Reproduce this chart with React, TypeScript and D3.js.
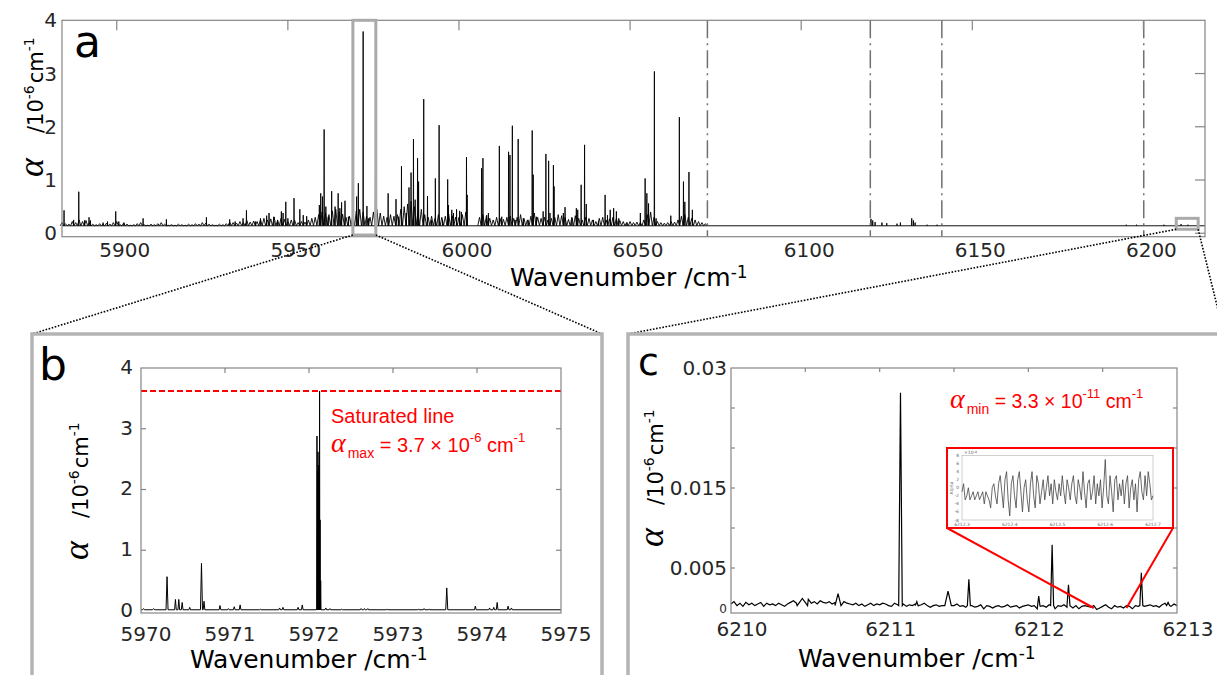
import React from 'react';
import * as d3 from 'd3';

// ---------- Panel a: survey spectrum ----------
const aXTicks = [5900, 5950, 6000, 6050, 6100, 6150, 6200];
const aYTicks = [0, 1, 2, 3, 4];
const aBaseline = 0.14;
const aFuzzStart = 5884;
const aFuzz = [
  0.2, 0.18, 0.17, 0.22, 0.2, 0.25, 0.22, 0.24, 0.2, 0.17, 0.16, 0.18, 0.17, 0.19, 0.17, 0.2, 0.22,
  0.16, 0.19, 0.17, 0.15, 0.16, 0.18, 0.2, 0.16, 0.15, 0.17,
  0.16, 0.18, 0.2, 0.17, 0.15, 0.16, 0.15, 0.17, 0.16, 0.15,
  0.17, 0.16, 0.18, 0.17, 0.2, 0.19, 0.17, 0.16, 0.15, 0.17,
  0.16, 0.18, 0.21, 0.2, 0.19,
  0.22, 0.2, 0.24, 0.21, 0.23, 0.22, 0.26, 0.28, 0.25, 0.27, 0.3, 0.24, 0.28, 0.26, 0.22, 0.25, 0.24, 0.2, 0.22, 0.21, 0.25, 0.28, 0.3, 0.35,
  0.4, 0.38, 0.35, 0.42, 0.45, 0.4, 0.36, 0.3, 0.32, 0.35, 0.42, 0.45, 0.4, 0.32, 0.3, 0.4, 0.45, 0.38, 0.32, 0.3, 0.35, 0.32,
  0.35, 0.45, 0.5, 0.55, 0.6, 0.5, 0.4, 0.45, 0.35, 0.3, 0.32, 0.28, 0.35, 0.3, 0.32, 0.36, 0.33, 0.3, 0.3, 0.35, 0.4,
  0.14, 0.14, 0.14,
  0.3, 0.35, 0.32, 0.28, 0.25, 0.3, 0.28, 0.26, 0.3, 0.32,
  0.28, 0.3, 0.35, 0.28, 0.25, 0.32, 0.38, 0.3, 0.28, 0.3,
  0.25, 0.28, 0.3, 0.35, 0.33, 0.3, 0.26, 0.3, 0.33, 0.28,
  0.25, 0.3, 0.28, 0.25, 0.22, 0.28, 0.3, 0.25, 0.27, 0.3,
  0.28, 0.24, 0.22, 0.2, 0.22, 0.2, 0.21, 0.2, 0.25, 0.35,
  0.4, 0.3, 0.22, 0.2, 0.19, 0.2, 0.22, 0.21, 0.25, 0.32,
  0.35, 0.3, 0.28, 0.25, 0.22, 0.2, 0.18,
];
const aPeaks: [number, number][] = [
  [5884.6, 0.43], [5887.4, 0.25], [5888.9, 0.78], [5890.6, 0.24], [5891.9, 0.3], [5892.3, 0.24], [5896.0, 0.2],
  [5897.3, 0.22], [5899.7, 0.41], [5900.6, 0.22], [5902.1, 0.2], [5907.7, 0.28], [5914.5, 0.26], [5926.2, 0.3],
  [5933.0, 0.26], [5934.6, 0.22], [5936.9, 0.28], [5937.9, 0.43], [5940.5, 0.22], [5942.0, 0.28], [5943.8, 0.33],
  [5944.5, 0.38], [5945.9, 0.31], [5947.0, 0.25], [5948.1, 0.41], [5948.6, 0.38], [5949.4, 0.59], [5950.0, 0.28],
  [5951.8, 0.66], [5953.5, 0.45], [5954.5, 0.34], [5955.5, 0.32], [5959.2, 0.53], [5959.6, 0.75], [5960.1, 0.69],
  [5960.6, 1.95], [5961.1, 0.5], [5961.8, 0.31], [5962.8, 0.79], [5963.8, 0.5], [5964.7, 0.75], [5965.2, 0.47],
  [5965.7, 0.58], [5966.7, 0.61], [5967.7, 0.31], [5970.1, 0.69], [5970.6, 0.94], [5972.0, 3.79], [5973.1, 0.51],
  [5973.6, 0.28], [5975.6, 0.95], [5975.9, 0.41], [5979.3, 0.75], [5981.6, 0.64], [5982.3, 0.31],
  [5983.2, 1.26], [5984.6, 0.38], [5985.4, 0.86], [5986.0, 1.14], [5986.7, 1.77], [5987.2, 0.63], [5987.9, 1.41],
  [5988.2, 0.97], [5989.7, 2.52], [5990.8, 0.7], [5992.0, 0.25], [5993.1, 1.03], [5994.2, 2.03], [5995.2, 0.25],
  [5996.7, 1.01], [5996.9, 0.53], [5997.9, 0.44], [5998.4, 0.38], [5999.3, 0.45], [6000.2, 0.42], [6000.7, 0.4],
  [6002.2, 1.43], [6002.4, 0.72],
  [6006.6, 1.22], [6007.0, 1.41], [6008.1, 0.34], [6008.6, 0.38], [6011.8, 1.64], [6012.5, 0.31], [6014.5, 1.53],
  [6014.9, 1.47], [6015.6, 2.02], [6016.4, 0.25], [6017.3, 1.77], [6018.8, 0.28], [6020.2, 0.25], [6021.4, 1.93],
  [6021.7, 1.1], [6022.6, 0.31], [6024.6, 0.41], [6025.4, 1.49], [6026.2, 1.36], [6026.6, 0.38], [6027.6, 1.28],
  [6027.8, 0.88], [6030.5, 0.38], [6031.0, 0.49], [6033.0, 0.28], [6034.3, 0.47], [6034.7, 0.44], [6035.7, 0.91],
  [6036.7, 1.66], [6037.2, 0.55], [6039.3, 0.25], [6040.8, 0.22], [6042.7, 0.72], [6043.4, 0.34], [6044.2, 0.44],
  [6045.2, 0.47], [6046.0, 0.41], [6046.7, 0.28], [6049.1, 0.2], [6053.0, 0.38], [6054.4, 1.03], [6054.9, 0.75],
  [6055.4, 0.56], [6057.1, 3.04], [6057.6, 0.28], [6061.9, 0.33], [6064.4, 2.18], [6065.6, 0.97], [6066.0, 0.59],
  [6067.2, 1.15], [6068.2, 0.44],
  [6120.4, 0.27], [6120.9, 0.24], [6121.6, 0.21], [6123.6, 0.2], [6125.0, 0.19], [6128.0, 0.18], [6129.0, 0.2],
  [6132.3, 0.28], [6132.8, 0.24], [6133.3, 0.2], [6136.8, 0.16], [6139.7, 0.16],
  [6195.0, 0.16], [6198.0, 0.16], [6206.0, 0.16], [6211.0, 0.17], [6213.0, 0.16],
];
const aScanEdges = [6072.6, 6120.2, 6141.1, 6200.1];
const aZoomB = [5969, 5975.7];
const aZoomC = [6209.6, 6216];
const aZoomCLevels = [0.075, 0.28];

// ---------- Panel b: 5970-5975 ----------
const bXTicks = [5970, 5971, 5972, 5973, 5974, 5975];
const bYTicks = [0, 1, 2, 3, 4];
const bBaseline = 0.02;
const bPeaks: [number, number, number][] = [
  [5970.03, 0.04, 0.012], [5970.15, 0.04, 0.012], [5970.31, 0.565, 0.012], [5970.41, 0.19, 0.01], [5970.45, 0.19, 0.01],
  [5970.49, 0.14, 0.01], [5970.58, 0.06, 0.01], [5970.72, 0.785, 0.012], [5970.75, 0.16, 0.01], [5970.94, 0.09, 0.01],
  [5971.04, 0.04, 0.01], [5971.11, 0.07, 0.01], [5971.18, 0.1, 0.01], [5971.42, 0.03, 0.01], [5971.65, 0.05, 0.01],
  [5971.69, 0.06, 0.01], [5971.87, 0.06, 0.01], [5971.92, 0.1, 0.01],
  [5972.095, 2.88, 0.004], [5972.101, 2.3, 0.003], [5972.107, 2.62, 0.003], [5972.113, 2.4, 0.003],
  [5972.119, 2.2, 0.003], [5972.126, 3.62, 0.003], [5972.132, 1.5, 0.003], [5972.139, 0.5, 0.004],
  [5972.2, 0.05, 0.01], [5972.25, 0.04, 0.01], [5972.39, 0.03, 0.01], [5972.62, 0.04, 0.01], [5972.66, 0.04, 0.01],
  [5972.7, 0.04, 0.01], [5972.93, 0.03, 0.01], [5973.3, 0.03, 0.01], [5973.37, 0.04, 0.01], [5973.43, 0.03, 0.01],
  [5973.64, 0.38, 0.012], [5973.98, 0.08, 0.01], [5974.15, 0.05, 0.01], [5974.2, 0.06, 0.01], [5974.24, 0.14, 0.01],
  [5974.37, 0.08, 0.01], [5974.41, 0.05, 0.01],
];
const bSaturation = 3.62;

// ---------- Panel c: 6210-6213 ----------
const cXTicks = [6210, 6211, 6212, 6213];
const cXMinorTicks = [6210.5, 6211, 6211.5, 6212, 6212.5];
const cYTicks = [0.005, 0.01, 0.015, 0.02, 0.025];
const cYLabels = [0.03, 0.015, 0.005];
const cNoiseStart = 6210;
const cNoiseStep = 0.02;
const cNoise = [
  5, 8, 3, 6, 2, 7, 4, 6, 3, 5, 7, 2, 6, 4, 5, 3, 6, 4, 2, 5, 7,
  9, 6, 10, 8, 7, 11, 6, 8, 5, 9, 7, 6, 8, 5, 7, 9, 12, 8, 6, 5,
  4, 6, 3, 5, 2, 4, 6, 3, 5, 4, 6, 5, 3, 2, 6, 4, 3, 5, 2, 4,
  3, 5, 2, 4, 6, 3, 1, 3, 4, 2, 3, 1, 4, 2, 3, 5, 2, 3, 1, 2,
  3, 1, 2, 4, -1, 3, 2, 0, 2, 3, 1, 2, 4, 1, 2, 3, 0, 2, 3, 4,
  2, 3, -1, 2, 3, 1, 4, 2, -1, 3, 2, 4, 1, 2, 0, 3, -1, 2, 3, 2,
  1, 3, -2, 0, 2, 4, 1, -1, 3, 1, 2, 0, 3, 2, -1, 3, 2, 1, 2, 3,
  4, 2, 3, 1, 4, 6, 3, 2, 5, 3,
];
const cPeaks: [number, number, number][] = [
  [6210.48, 0.0012, 0.035], [6210.72, 0.0018, 0.02], [6211.14, 0.0269, 0.012], [6211.25, 0.0008, 0.01],
  [6211.46, 0.0021, 0.022], [6211.6, 0.0036, 0.01], [6212.07, 0.0015, 0.008], [6212.16, 0.0079, 0.01],
  [6212.27, 0.0029, 0.01], [6212.76, 0.0044, 0.01], [6212.94, 0.0007, 0.01],
];
const cInsetRange = [6212.3, 6212.7];
const cInsetNoise = [
  -1, 1, -3, -2, 0, -3, -2, -1, -3, -2,
  -1, -3, -2, -1, -4, -1, -2, -3, -5, 0,
  1, -2, -4, 1, 3, -1, -5, 2, 4, -3,
  -7, 1, 3, -2, -5, 2, 4, -1, -6, 0,
  2, -3, -6, 1, 4, -2, -5, 3, 1, -4,
  -1, 2, -3, 0, 3, -2, 1, -4, 2, -1,
  -3, 1, -2, 3, -1, -4, 2, 0, -3, 1,
  3, -2, -4, 2, 0, -3, 4, -1, -5, 1,
  2, -3, -1, 3, -4, 1, -2, 2, -5, 0,
  7, -2, -4, 3, -1, -6, 2, 3, -3, 1,
  -2, 2, -4, 1, 3, -5, 0, 2, -3, 1,
  -6, 2, 4, -1, -3, 3, -2, 4, 1, -3,
  -2,
];
const cInsetXTicks = [6212.3, 6212.4, 6212.5, 6212.6, 6212.7];
const cInsetYTicks = [-8, -6, -4, -2, 0, 2, 4, 6, 8];
const cInsetPointer = [6212.44, 6212.66];

const SANS = "'DejaVu Sans', Verdana, sans-serif";
const RED = "'Liberation Sans', Arial, sans-serif";
const GREEK = "'Liberation Serif', 'DejaVu Serif', serif";
const TICK = '#262626';
const BOX = '#858585';
const FRAME = '#b4b4b4';

function YLabel({ x, yAlpha, yUnit }: { x: number; yAlpha: number; yUnit: number }) {
  return (
    <g>
      <text transform={`translate(${x},${yAlpha}) rotate(-90)`} fontFamily={GREEK} fontStyle="italic" fontSize={36} fill="#000">α</text>
      <text transform={`translate(${x},${yUnit}) rotate(-90)`} fontFamily={SANS} fontSize={21} fill="#000">
        /10<tspan dy={-9} fontSize={14}>-6</tspan><tspan dy={9} dx={2}>cm</tspan><tspan dy={-9} fontSize={14}>-1</tspan>
      </text>
    </g>
  );
}

function XLabel({ x, y }: { x: number; y: number }) {
  return (
    <text x={x} y={y} fontFamily={SANS} fontSize={25} fill="#000">
      Wavenumber /cm<tspan dy={-8} fontSize={17}>-1</tspan>
    </text>
  );
}

export default function App() {
  // scales
  const xA = d3.scaleLinear().domain([5884, 6218]).range([62, 1205]);
  const yA = d3.scaleLinear().domain([-0.065, 4]).range([236.7, 20.3]);
  const xB = d3.scaleLinear().domain([5970, 5975]).range([141, 561]);
  const yB = d3.scaleLinear().domain([-0.033, 4]).range([613, 368]);
  const xC = d3.scaleLinear().domain([6210, 6213]).range([731, 1177]);
  const yC = d3.scaleLinear().domain([-0.000625, 0.03]).range([613, 368]);
  const xI = d3.scaleLinear().domain(cInsetRange).range([962, 1153]);
  const yI = d3.scaleLinear().domain([-8, 8]).range([520, 455.5]);

  // panel a spectrum as sticks on the baseline
  let aPath = '';
  const a0 = yA(aBaseline);
  aFuzz.forEach((h, i) => {
    const w = aFuzzStart + i;
    if (h <= aBaseline) return;
    aPath += `M${xA(w - 0.5)},${a0}L${xA(w)},${yA(h)}L${xA(w + 0.5)},${a0}`;
  });
  aPeaks.forEach(([w, h]) => {
    aPath += `M${xA(w - 0.06)},${a0}L${xA(w)},${yA(h)}L${xA(w + 0.06)},${a0}`;
  });

  // panel b line
  const bPts: [number, number][] = [[5970, bBaseline]];
  [...bPeaks].sort((p, q) => p[0] - q[0]).forEach(([w, h, hw]) => {
    bPts.push([w - hw, bBaseline], [w, h], [w + hw, bBaseline]);
  });
  bPts.push([5975, bBaseline]);
  const bLine = d3.line<[number, number]>().x((d) => xB(d[0])).y((d) => yB(d[1]))(bPts) || '';

  // panel c line
  const cPts: [number, number][] = [];
  cNoise.forEach((n, i) => {
    const w = cNoiseStart + i * cNoiseStep;
    if (cPeaks.some(([pw, , hw]) => Math.abs(w - pw) < hw)) return;
    cPts.push([w, n * 1e-4]);
  });
  cPeaks.forEach(([w, h, hw]) => {
    cPts.push([w - hw, 0.0003], [w, h], [w + hw, 0.0003]);
  });
  cPts.sort((p, q) => p[0] - q[0]);
  const cLine = d3.line<[number, number]>().x((d) => xC(d[0])).y((d) => yC(d[1]))(cPts) || '';

  const iStep = (cInsetRange[1] - cInsetRange[0]) / (cInsetNoise.length - 1);
  const iLine = d3.line<number>().x((_, i) => xI(cInsetRange[0] + i * iStep)).y((d) => yI(d))(cInsetNoise) || '';

  const aTop = yA(4), aBot = 236.7;
  const bFrameTop = 334;

  return (
    <svg width={1217} height={675} style={{ position: 'absolute', left: 0, top: 0, background: '#fff' }}>
      <rect x={0} y={0} width={1217} height={675} fill="#fff" />

      {/* ================= Panel a ================= */}
      <path d={aPath} fill="none" stroke="#000" strokeWidth={0.9} />
      <line x1={xA(5884)} x2={xA(6218)} y1={a0} y2={a0} stroke="#111" strokeWidth={1} />
      {aScanEdges.map((w) => (
        <line key={w} x1={xA(w)} x2={xA(w)} y1={aTop} y2={aBot} stroke="#707070" strokeWidth={1.5} strokeDasharray="18 5 2 5" />
      ))}
      <rect x={62} y={aTop} width={1205 - 62} height={aBot - aTop} fill="none" stroke={BOX} strokeWidth={1.2} />
      {aXTicks.map((t) => (
        <g key={t}>
          <line x1={xA(t)} x2={xA(t)} y1={aTop} y2={aTop + 10} stroke={BOX} strokeWidth={1.2} />
          <text x={xA(t) + 8} y={257} textAnchor="middle" fontFamily={SANS} fontSize={20} fill={TICK}>{t}</text>
        </g>
      ))}
      {aYTicks.map((t) => (
        <g key={t}>
          {t < 4 && <line x1={1205} x2={1195} y1={yA(t)} y2={yA(t)} stroke={BOX} strokeWidth={1.2} />}
          <text x={57} y={yA(t) + 7} textAnchor="end" fontFamily={SANS} fontSize={20} fill={TICK}>{t}</text>
        </g>
      ))}
      <text x={74} y={57} fontFamily={SANS} fontSize={44} fill="#000">a</text>
      <YLabel x={43} yAlpha={177} yUnit={133} />
      <XLabel x={510} y={286} />

      {/* zoom boxes */}
      <rect x={xA(aZoomB[0])} y={aTop} width={xA(aZoomB[1]) - xA(aZoomB[0])} height={235 - aTop} fill="none" stroke="#aaaaaa" strokeWidth={3} />
      <rect x={xA(aZoomC[0])} y={yA(aZoomCLevels[1])} width={xA(aZoomC[1]) - xA(aZoomC[0])} height={yA(aZoomCLevels[0]) - yA(aZoomCLevels[1])} fill="none" stroke="#aaaaaa" strokeWidth={3} />

      {/* dotted connectors */}
      <g stroke="#000" strokeWidth={1.6} strokeDasharray="1.6 1.6" fill="none">
        <line x1={xA(aZoomB[0])} y1={235} x2={32} y2={bFrameTop} />
        <line x1={xA(aZoomB[1])} y1={235} x2={602} y2={bFrameTop} />
        <line x1={xA(aZoomC[0])} y1={yA(aZoomCLevels[0])} x2={628} y2={bFrameTop} />
        <line x1={xA(aZoomC[1])} y1={yA(aZoomCLevels[0])} x2={1224} y2={bFrameTop} />
      </g>

      {/* panel frames */}
      <path d={`M32,690 L32,${bFrameTop} L602,${bFrameTop} L602,690`} fill="none" stroke={FRAME} strokeWidth={3.5} />
      <path d={`M628,690 L628,${bFrameTop} L1230,${bFrameTop}`} fill="none" stroke={FRAME} strokeWidth={3.5} />

      {/* ================= Panel b ================= */}
      <path d={bLine} fill="none" stroke="#000" strokeWidth={1} />
      <line x1={xB(5970)} x2={xB(5975)} y1={yB(bSaturation)} y2={yB(bSaturation)} stroke="#ff0000" strokeWidth={2} strokeDasharray="6 3" />
      <rect x={141} y={368} width={420} height={245} fill="none" stroke={BOX} strokeWidth={1.2} />
      {bXTicks.map((t) => (
        <g key={t}>
          {t > 5970 && t < 5975 && <line x1={xB(t)} x2={xB(t)} y1={368} y2={373} stroke={BOX} strokeWidth={1.2} />}
          <text x={xB(t) + 5} y={641} textAnchor="middle" fontFamily={SANS} fontSize={20} fill={TICK}>{t}</text>
        </g>
      ))}
      {bYTicks.map((t) => (
        <g key={t}>
          {t > 0 && t < 4 && <line x1={141} x2={146} y1={yB(t)} y2={yB(t)} stroke={BOX} strokeWidth={1.2} />}
          {t > 0 && t < 4 && <line x1={561} x2={556} y1={yB(t)} y2={yB(t)} stroke={BOX} strokeWidth={1.2} />}
          <text x={133} y={yB(t) + 6} textAnchor="end" fontFamily={SANS} fontSize={20} fill={TICK}>{t}</text>
        </g>
      ))}
      <text x={39} y={380} fontFamily={SANS} fontSize={44} fill="#000">b</text>
      <YLabel x={88} yAlpha={560} yUnit={518} />
      <XLabel x={190} y={668} />
      <text x={331} y={423} fontFamily={RED} fontSize={20} fill="#ff0000">Saturated line</text>
      <text x={331} y={452} fontFamily={RED} fontSize={20} fill="#ff0000">
        <tspan fontFamily={GREEK} fontStyle="italic" fontSize={28}>α</tspan>
        <tspan fontSize={14} dy={6} dx={2}>max</tspan>
        <tspan dy={-6}> = 3.7 × 10</tspan>
        <tspan fontSize={13} dy={-10}>-6</tspan>
        <tspan dy={10}> cm</tspan>
        <tspan fontSize={13} dy={-10}>-1</tspan>
      </text>

      {/* ================= Panel c ================= */}
      <path d={cLine} fill="none" stroke="#000" strokeWidth={1.2} />
      <rect x={731} y={368} width={446} height={245} fill="none" stroke={BOX} strokeWidth={1.2} />
      {cXMinorTicks.map((t) => (
        <line key={t} x1={xC(t)} x2={xC(t)} y1={368} y2={372} stroke={BOX} strokeWidth={1.2} />
      ))}
      {cXTicks.map((t) => (
        <text key={t} x={xC(t) + 11} y={636} textAnchor="middle" fontFamily={SANS} fontSize={20} fill={TICK}>{t}</text>
      ))}
      {cYTicks.map((t) => (
        <g key={t}>
          <line x1={731} x2={735} y1={yC(t)} y2={yC(t)} stroke={BOX} strokeWidth={1.2} />
          <line x1={1177} x2={1173} y1={yC(t)} y2={yC(t)} stroke={BOX} strokeWidth={1.2} />
        </g>
      ))}
      {cYLabels.map((t) => (
        <text key={t} x={727} y={yC(t) + 7} textAnchor="end" fontFamily={SANS} fontSize={20} fill={TICK}>{String(t)}</text>
      ))}
      <text x={723} y={yC(0) + 5} textAnchor="middle" fontFamily={SANS} fontSize={12} fill={TICK}>0</text>
      <text x={638} y={375} fontFamily={SANS} fontSize={38} fill="#000">c</text>
      <YLabel x={663} yAlpha={547} yUnit={505} />
      <XLabel x={798} y={667} />
      <text x={950} y={408} fontFamily={RED} fontSize={19.5} fill="#ff0000">
        <tspan fontFamily={GREEK} fontStyle="italic" fontSize={28}>α</tspan>
        <tspan fontSize={14} dy={6} dx={2}>min</tspan>
        <tspan dy={-6}> = 3.3 × 10</tspan>
        <tspan fontSize={13} dy={-10}>-11</tspan>
        <tspan dy={10}> cm</tspan>
        <tspan fontSize={13} dy={-10}>-1</tspan>
      </text>

      {/* inset */}
      <line x1={947} y1={528} x2={xC(cInsetPointer[0])} y2={yC(0)} stroke="#ff0000" strokeWidth={2} />
      <line x1={1173} y1={528} x2={xC(cInsetPointer[1])} y2={yC(0)} stroke="#ff0000" strokeWidth={2} />
      <rect x={947} y={448} width={226} height={80} fill="#fff" stroke="#ff0000" strokeWidth={2} />
      <rect x={962} y={455.5} width={191} height={64.5} fill="none" stroke="#bbb" strokeWidth={0.7} />
      <path d={iLine} fill="none" stroke="#444" strokeWidth={0.8} />
      {cInsetYTicks.map((t) => (
        <text key={t} x={959} y={yI(t) + 1.5} textAnchor="end" fontFamily={SANS} fontSize={4.5} fill="#666">{t}</text>
      ))}
      {cInsetXTicks.map((t) => (
        <text key={t} x={xI(t)} y={525.5} textAnchor="middle" fontFamily={SANS} fontSize={4.5} fill="#666">{t}</text>
      ))}
      <text x={964} y={454} fontFamily={SANS} fontSize={4.5} fill="#666">×10<tspan dy={-1.5} fontSize={3.5}>-4</tspan></text>
      <text transform="translate(953,488) rotate(-90)" textAnchor="middle" fontFamily={SANS} fontSize={4.5} fill="#666">Alpha</text>
    </svg>
  );
}
